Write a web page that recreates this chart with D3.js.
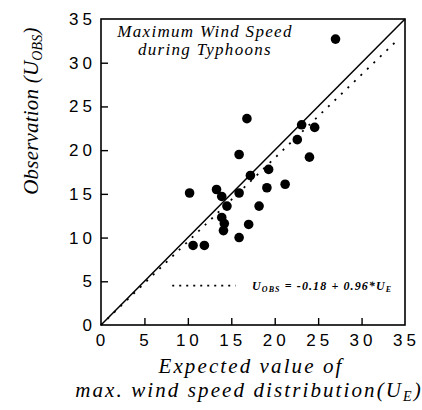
<!DOCTYPE html>
<html>
<head>
<meta charset="utf-8">
<script src="https://cdn.jsdelivr.net/npm/d3@7"></script>
<style>
  html, body { margin: 0; padding: 0; background: #fff; }
  svg { display: block; }
</style>
</head>
<body>
<svg id="chart" width="422" height="410"></svg>
<script>
// Data
const expected = [27.0, 16.8, 23.1, 24.6, 22.6, 15.9, 24.0, 19.3, 17.2, 21.2, 19.1, 10.2,
                  13.3, 13.9, 15.9, 14.5, 18.2, 13.9, 14.2, 17.0, 14.1, 15.9, 10.6, 11.9];
const observed = [32.7, 23.6, 22.9, 22.6, 21.2, 19.5, 19.2, 17.8, 17.1, 16.1, 15.7, 15.1,
                  15.5, 14.7, 15.1, 13.6, 13.6, 12.3, 11.6, 11.5, 10.8, 10.0, 9.1, 9.1];
const xTicks = [0, 5, 10, 15, 20, 25, 30, 35];
const yTicks = [0, 5, 10, 15, 20, 25, 30, 35];
const fitIntercept = -0.18;
const fitSlope = 0.96;
const fitRange = [0, 34.2];
const legendRange = [8.2, 15.5];
const legendY = 4.5;

const svg = d3.select("#chart");
const x = d3.scaleLinear().domain([0, 35]).range([101, 405]);
const y = d3.scaleLinear().domain([0, 35]).range([325, 19]);

const tickFont = "'Liberation Sans', Arial, sans-serif";
const serif = "'Liberation Serif', 'Times New Roman', serif";

// Axes
const gx = svg.append("g").attr("transform", `translate(0,${y(0)})`)
  .call(d3.axisBottom(x).tickValues(xTicks).tickFormat(d3.format("d"))
    .tickSizeInner(-7).tickSizeOuter(0).tickPadding(9));
const gy = svg.append("g").attr("transform", `translate(${x(0)},0)`)
  .call(d3.axisLeft(y).tickValues(yTicks).tickFormat(d3.format("d"))
    .tickSizeInner(-7).tickSizeOuter(0).tickPadding(5));
[gx, gy].forEach(g => {
  g.select(".domain").remove();
  g.selectAll(".tick line").attr("stroke", "#000").attr("stroke-width", 1.4);
  g.selectAll(".tick text").attr("fill", "#000")
    .style("font-family", tickFont).style("font-size", "17px")
    .style("letter-spacing", "4px");
});
gx.selectAll(".tick text").attr("dx", "1px");
gx.selectAll(".tick").filter(d => d === 0 || d === 35).select("line").remove();
gy.selectAll(".tick").filter(d => d === 0 || d === 35).select("line").remove();

// Frame
svg.append("rect")
  .attr("x", x(0)).attr("y", y(35))
  .attr("width", x(35) - x(0)).attr("height", y(0) - y(35))
  .attr("fill", "none").attr("stroke", "#000").attr("stroke-width", 1.6);

// 1:1 line
svg.append("line")
  .attr("x1", x(0)).attr("y1", y(0)).attr("x2", x(35)).attr("y2", y(35))
  .attr("stroke", "#000").attr("stroke-width", 1.5);

// Regression line (dotted)
svg.append("line")
  .attr("x1", x(fitRange[0])).attr("y1", y(Math.max(0, fitIntercept + fitSlope * fitRange[0])))
  .attr("x2", x(fitRange[1])).attr("y2", y(fitIntercept + fitSlope * fitRange[1]))
  .attr("stroke", "#000").attr("stroke-width", 1.8)
  .attr("stroke-dasharray", "2,7");

// Points
svg.append("g").selectAll("circle")
  .data(expected.map((e, i) => [e, observed[i]]))
  .join("circle")
  .attr("cx", d => x(d[0])).attr("cy", d => y(d[1]))
  .attr("r", 4.8).attr("fill", "#000");

// Title annotation inside the plot
const title = svg.append("text")
  .style("font-family", serif).style("font-style", "italic").style("font-size", "17px")
  .style("letter-spacing", "1.3px")
  .attr("text-anchor", "middle").attr("fill", "#000");
title.append("tspan").attr("x", 205).attr("y", 37).text("Maximum Wind Speed");
title.append("tspan").attr("x", 205).attr("y", 55).text("during Typhoons");

// Legend
svg.append("line")
  .attr("x1", x(legendRange[0])).attr("x2", x(legendRange[1]))
  .attr("y1", y(legendY)).attr("y2", y(legendY))
  .attr("stroke", "#000").attr("stroke-width", 1.6)
  .attr("stroke-dasharray", "2,5");
const leg = svg.append("text")
  .attr("x", 252).attr("y", y(legendY) + 4)
  .style("font-family", serif).style("font-style", "italic").style("font-weight", "bold")
  .style("font-size", "12px").style("letter-spacing", "1.1px").attr("fill", "#000");
leg.append("tspan").text("U");
leg.append("tspan").attr("dy", 2).style("font-size", "8px").text("OBS");
leg.append("tspan").attr("dy", -2).text(" = -0.18 + 0.96*U");
leg.append("tspan").attr("dy", 2).style("font-size", "8px").text("E");

// Y axis title
const yt = svg.append("text")
  .attr("transform", "translate(38,111) rotate(-90)")
  .attr("text-anchor", "middle")
  .style("font-family", serif).style("font-style", "italic").style("font-size", "21px")
  .style("letter-spacing", "0.2px")
  .attr("fill", "#000");
yt.append("tspan").text("Observation (U");
yt.append("tspan").attr("dy", 4).style("font-size", "14px").text("OBS");
yt.append("tspan").attr("dy", -4).text(")");

// X axis title (two lines)
const xtStyle = sel => sel
  .style("font-family", serif).style("font-style", "italic").style("font-size", "21px")
  .style("letter-spacing", "2.1px").attr("fill", "#000").attr("text-anchor", "middle");
svg.append("text").call(xtStyle).attr("x", 251).attr("y", 373).text("Expected value of");
const l2 = svg.append("text").call(xtStyle).attr("x", 249).attr("y", 397);
l2.append("tspan").text("max. wind speed distribution(U");
l2.append("tspan").attr("dy", 4).style("font-size", "14px").text("E");
l2.append("tspan").attr("dy", -4).text(")");
</script>
</body>
</html>
